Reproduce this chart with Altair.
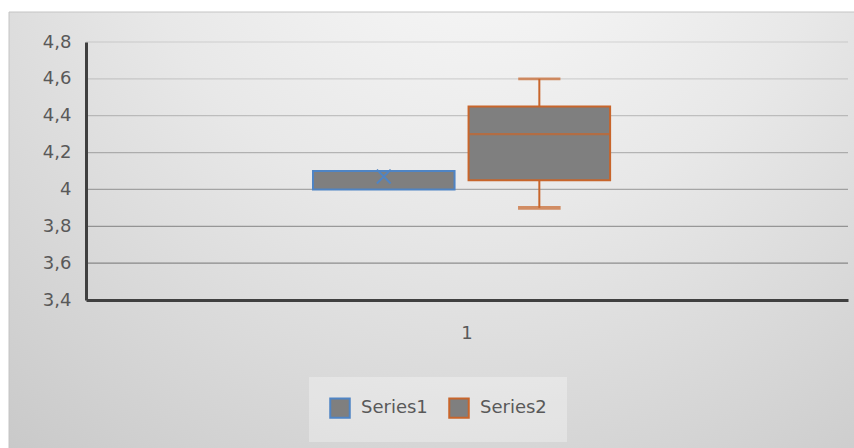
import altair as alt
import pandas as pd

# Box-and-whisker statistics per series (one category, "1")
categories = ["1"]
series = ["Series1", "Series2"]
q1 = [4.0, 4.05]
q3 = [4.1, 4.45]
median = [4.1, 4.3]
minimum = [4.0, 3.9]
maximum = [4.1, 4.6]
mean = [4.07, None]

y_ticks = [3.4, 3.6, 3.8, 4.0, 4.2, 4.4, 4.6, 4.8]

series_colors = ["#4f84c4", "#c8652b"]
box_fill = "#7f7f7f"
text_color = "#595959"
font = "DejaVu Sans"

stats = pd.DataFrame({
    "cat": categories * len(series),
    "series": series,
    "q1": q1,
    "q3": q3,
    "median": median,
    "min": minimum,
    "max": maximum,
    "mean": mean,
})
upper = stats[stats["max"] > stats["q3"]]
lower = stats[stats["min"] < stats["q1"]]
means = stats.dropna(subset=["mean"])
grid = pd.DataFrame({"v": [v for v in y_ticks if v > y_ticks[0]]})

y_scale = alt.Scale(domain=[y_ticks[0], y_ticks[-1]], nice=False, zero=False)
y_axis = alt.Axis(
    values=y_ticks,
    labelExpr="replace(format(datum.value, '~g'), '.', ',')",
    labelPadding=15,
    grid=False,
    ticks=False,
    domainColor="#404040",
    domainWidth=3,
    labelFont=font,
    labelFontSize=18,
    labelColor=text_color,
    zindex=2,
)
x_axis = alt.Axis(
    labelAngle=0,
    labelPadding=24,
    grid=False,
    ticks=False,
    domainColor="#404040",
    domainWidth=3,
    labelFont=font,
    labelFontSize=18,
    labelColor=text_color,
    zindex=2,
)


def y_enc(field):
    return alt.Y(field, title=None, scale=y_scale, axis=y_axis)


x_enc = alt.X(
    "cat:N",
    title=None,
    scale=alt.Scale(domain=categories, paddingInner=0, paddingOuter=0.737),
    axis=x_axis,
)
# boxes sit toward the left of the category band
off_enc = alt.XOffset(
    "series:N",
    scale=alt.Scale(domain=series, paddingInner=0.09, paddingOuter=0.035, align=0),
)
stroke_enc = alt.Stroke(
    "series:N",
    title=None,
    scale=alt.Scale(domain=series, range=series_colors),
    legend=alt.Legend(
        orient="none",
        legendX=223,
        legendY=335,
        direction="horizontal",
        padding=20,
        fillColor="rgba(255,255,255,0.3)",
        symbolType="square",
        symbolSize=380,
        symbolStrokeWidth=2,
        symbolFillColor=box_fill,
        labelFontSize=18,
        labelFont=font,
        labelColor=text_color,
        labelOffset=10,
        columnPadding=17,
    ),
)

# Chart background with a soft radial gradient
background = alt.Chart(pd.DataFrame({"k": [0]})).mark_rect(
    color={
        "gradient": "radial",
        "x1": 0.56, "y1": 0.05, "r1": 0,
        "x2": 0.56, "y2": 0.05, "r2": 0.95,
        "stops": [
            {"offset": 0, "color": "#fcfcfc"},
            {"offset": 0.45, "color": "#e8e8e8"},
            {"offset": 1, "color": "#c6c6c6"},
        ],
    },
    stroke="#c4c4c4",
    strokeWidth=1,
).encode(
    x=alt.value(-77), x2=alt.value(770), y=alt.value(-30), y2=alt.value(410)
)

# horizontal gridlines, fading toward the top
gridlines = alt.Chart(grid).mark_rule(strokeWidth=1.3, color="#000000").encode(
    y=y_enc("v:Q"),
    opacity=alt.Opacity(
        "v:Q", scale=alt.Scale(domain=[3.6, 4.8], range=[0.38, 0.08]), legend=None
    ),
)

boxes = alt.Chart(stats).mark_bar(fill=box_fill, strokeWidth=2).encode(
    x=x_enc,
    xOffset=off_enc,
    y=y_enc("q1:Q"),
    y2="q3:Q",
    stroke=stroke_enc,
)

# outlined ticks: thin rectangle + stroke gives a solid line
medians = alt.Chart(stats).mark_tick(
    size=138, thickness=0.3, filled=False, strokeWidth=1.8
).encode(
    x=x_enc, xOffset=off_enc, y=y_enc("median:Q"), stroke=stroke_enc,
)

whisker_up = alt.Chart(upper).mark_rule(strokeWidth=2).encode(
    x=x_enc, xOffset=off_enc, y=y_enc("max:Q"), y2="q3:Q", stroke=stroke_enc,
)
whisker_lo = alt.Chart(lower).mark_rule(strokeWidth=2).encode(
    x=x_enc, xOffset=off_enc, y=y_enc("min:Q"), y2="q1:Q", stroke=stroke_enc,
)
cap_up = alt.Chart(upper).mark_tick(
    size=40, thickness=0.5, filled=False, strokeWidth=2.2
).encode(
    x=x_enc, xOffset=off_enc, y=y_enc("max:Q"), stroke=stroke_enc,
)
cap_lo = alt.Chart(lower).mark_tick(
    size=40, thickness=1, filled=False, strokeWidth=2.6
).encode(
    x=x_enc, xOffset=off_enc, y=y_enc("min:Q"), stroke=stroke_enc,
)

mean_marks = alt.Chart(means).mark_point(
    shape="M-1,-1L1,1M-1,1L1,-1", size=190, filled=False, strokeWidth=2, opacity=1
).encode(
    x=x_enc, xOffset=off_enc, y=y_enc("mean:Q"), stroke=stroke_enc,
)

chart = (
    alt.layer(
        background, gridlines, boxes, medians,
        whisker_up, whisker_lo, cap_up, cap_lo, mean_marks,
    )
    .properties(
        width=762,
        height=258,
        autosize=alt.AutoSizeParams(type="none"),
        padding={"left": 86, "top": 42, "right": 6, "bottom": 148},
        background="white",
    )
    .configure_view(stroke=None)
)

chart.save("out.html", embed_options={"renderer": "svg", "actions": False})
